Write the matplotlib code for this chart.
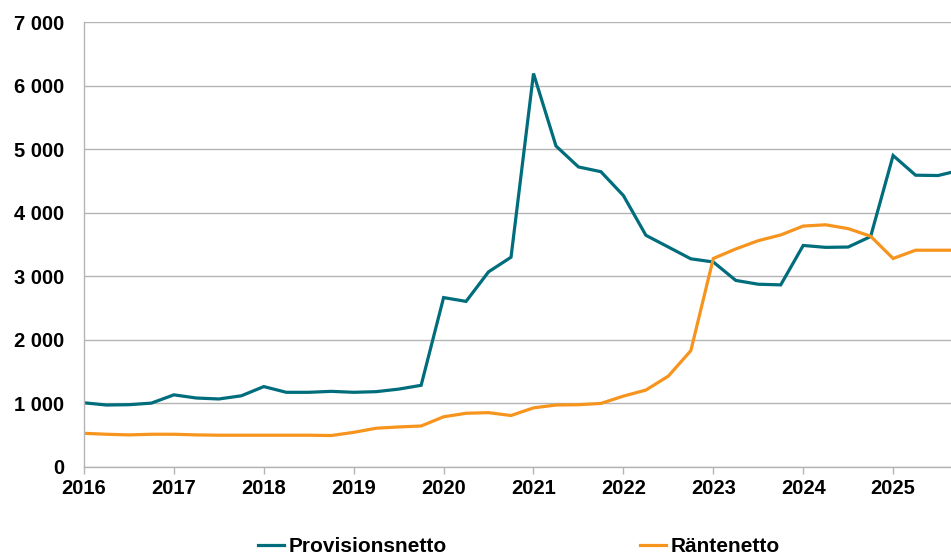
import matplotlib
matplotlib.use("Agg")
import matplotlib.pyplot as plt
from matplotlib.ticker import FuncFormatter, FixedLocator
import numpy as np

plt.rcParams['font.family'] = ['Liberation Sans', 'DejaVu Sans']

# Quarterly data 2016 Q1 .. 2025 Q4
start_year = 2016
provisionsnetto = [1010, 975, 980, 1005, 1135, 1085, 1070, 1120, 1265, 1175,
                   1175, 1190, 1175, 1185, 1225, 1285, 2665, 2605, 3070, 3300,
                   6190, 5050, 4720, 4645, 4270, 3645, 3460, 3275, 3225, 2935,
                   2875, 2865, 3485, 3455, 3460, 3625, 4900, 4590, 4585, 4670]
rantenetto = [530, 515, 505, 515, 515, 505, 500, 500, 500, 500,
              500, 495, 545, 610, 630, 645, 790, 845, 855, 810,
              930, 975, 980, 1000, 1115, 1210, 1430, 1830, 3280, 3430,
              3560, 3650, 3790, 3810, 3750, 3630, 3280, 3410, 3410, 3410]
series_names = ["Provisionsnetto", "Räntenetto"]
year_ticks = list(range(2016, 2026))
y_ticks = list(range(0, 7001, 1000))

teal = "#006D7C"
orange = "#F7941D"

x = start_year + np.arange(len(provisionsnetto)) * 0.25

fig = plt.figure(figsize=(9.51, 5.56), dpi=100)
ax = fig.add_axes([84/951, 1-467/556, 1-84/951, (467-22)/556])

ax.plot(x, provisionsnetto, color=teal, lw=2.3, label=series_names[0], solid_joinstyle='miter')
ax.plot(x, rantenetto, color=orange, lw=2.3, label=series_names[1], solid_joinstyle='miter')

ax.set_xlim(2016, 2016 + (951-84)/89.9)
ax.set_ylim(0, 7000)
ax.xaxis.set_major_locator(FixedLocator(year_ticks))
ax.yaxis.set_major_locator(FixedLocator(y_ticks))
ax.yaxis.set_major_formatter(FuncFormatter(lambda v, p: f"{int(v):,}".replace(",", " ")))
ax.xaxis.set_major_formatter(FuncFormatter(lambda v, p: f"{int(round(v))}"))

ax.grid(axis='y', color='#b4b4b4', lw=1.0)
ax.set_axisbelow(True)
for s in ['top', 'right']:
    ax.spines[s].set_visible(False)
for s in ['left', 'bottom']:
    ax.spines[s].set_color('#b4b4b4')
    ax.spines[s].set_linewidth(1.0)

ax.tick_params(axis='y', length=0, pad=14, labelsize=14.5)
ax.tick_params(axis='x', length=5, width=1, color='#b4b4b4', pad=4, labelsize=14.5, direction='out')
for lab in ax.get_xticklabels() + ax.get_yticklabels():
    lab.set_fontweight('bold')

leg = fig.legend(loc='center', bbox_to_anchor=(519/951, 1-547/556), ncol=2,
                 frameon=False, handlelength=1.25, handletextpad=0.2,
                 columnspacing=9.3, prop={'weight': 'bold', 'size': 15})

fig.savefig("out.png", dpi=100)
